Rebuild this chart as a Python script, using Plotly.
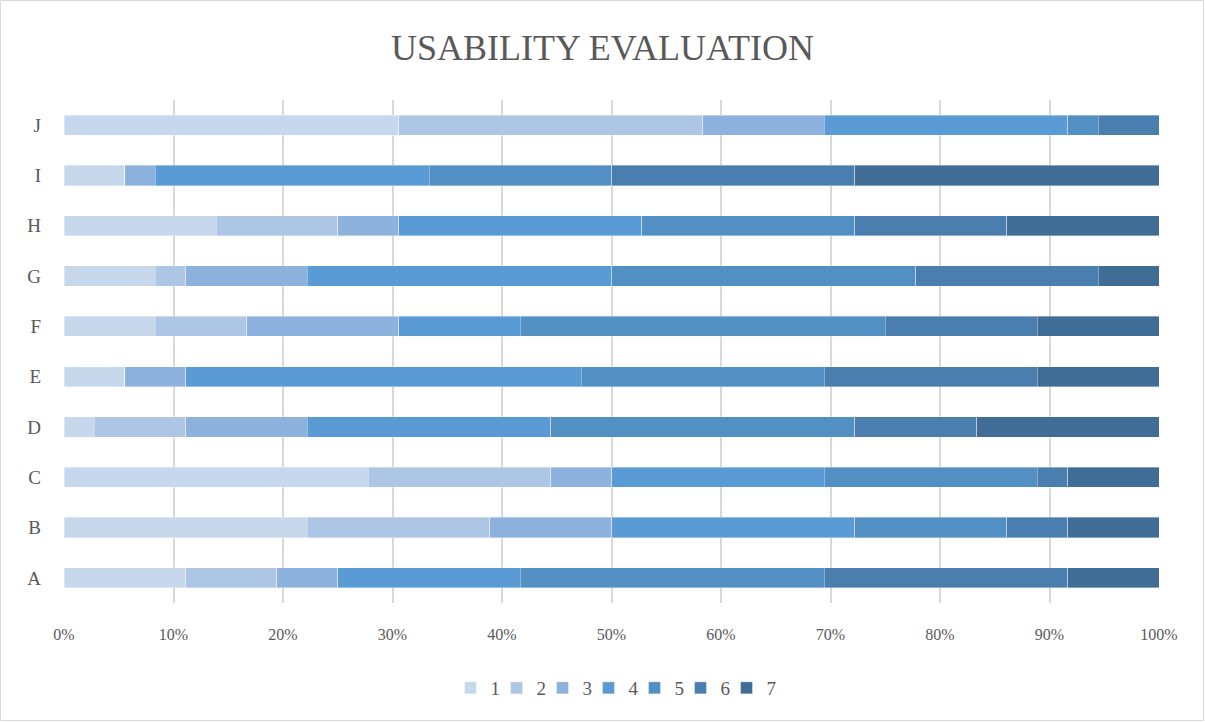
import plotly.graph_objects as go

categories = ["A", "B", "C", "D", "E", "F", "G", "H", "I", "J"]
series_names = ["1", "2", "3", "4", "5", "6", "7"]
# counts per rating (out of 36 responses) for each category A..J
s1 = [4, 8, 10, 1, 2, 3, 3, 5, 2, 11]
s2 = [3, 6, 6, 3, 0, 3, 1, 4, 0, 10]
s3 = [2, 4, 2, 4, 2, 5, 4, 2, 1, 4]
s4 = [6, 8, 7, 8, 13, 4, 10, 8, 9, 8]
s5 = [10, 5, 7, 10, 8, 12, 10, 7, 6, 1]
s6 = [8, 2, 1, 4, 7, 5, 6, 5, 8, 2]
s7 = [3, 3, 3, 6, 4, 4, 2, 5, 10, 0]
series_values = [s1, s2, s3, s4, s5, s6, s7]
colors = ["#c7d7ec", "#aec6e6", "#8db2de", "#5b9bd5", "#528fc3", "#4a7eae", "#3f6d96"]
tick_vals = [0, 10, 20, 30, 40, 50, 60, 70, 80, 90, 100]
tick_text = [f"{v}%" for v in tick_vals]

FONT = "Liberation Serif"

fig = go.Figure()
for name, vals, col in zip(series_names, series_values, colors):
    fig.add_trace(go.Bar(
        y=categories, x=vals, name=name, orientation="h",
        marker=dict(color=col, line=dict(color="rgba(255,255,255,0.6)", width=0.6)),
        hoverinfo="skip",
    ))

W, H = 1205, 722
ml, mr, mt, mb = 64, 46, 100, 119
pw, ph = W - ml - mr, H - mt - mb

fig.update_layout(
    width=W, height=H,
    barmode="stack", barnorm="percent", bargap=0.6,
    margin=dict(l=ml, r=mr, t=mt, b=mb, autoexpand=False),
    paper_bgcolor="white", plot_bgcolor="white",
    font=dict(family=FONT, color="#595959", size=16),
    title=dict(text="USABILITY EVALUATION", x=0.5, xanchor="center",
               y=1 - 47 / H, yanchor="middle",
               font=dict(family=FONT, size=36, color="#595959")),
    xaxis=dict(range=[0, 100], tickvals=tick_vals, ticktext=tick_text,
               showgrid=True, gridcolor="#d9d9d9", gridwidth=2,
               zeroline=False, showline=False, ticks="",
               ticklabelstandoff=20,
               tickfont=dict(family=FONT, size=16, color="#595959"),
               fixedrange=True),
    yaxis=dict(showgrid=False, ticks="", showline=False,
               tickfont=dict(family=FONT, size=19, color="#595959"),
               ticklabelstandoff=22, fixedrange=True),
    legend=dict(orientation="h", x=0.5, xanchor="center",
                y=-(688 - (H - mb)) / ph, yanchor="middle",
                font=dict(family=FONT, size=19, color="#595959"),
                traceorder="normal", itemwidth=30,
                entrywidth=1, entrywidthmode="pixels",
                bgcolor="rgba(0,0,0,0)"),
    showlegend=True,
    shapes=[dict(type="rect", xref="paper", yref="paper",
                 x0=-(ml - 0.5) / pw, x1=1 + (mr - 1.5) / pw,
                 y0=-(mb - 1.5) / ph, y1=1 + (mt - 0.5) / ph,
                 line=dict(color="#d9d9d9", width=1), layer="below")],
)

post = """
document.body.style.margin='0';
document.body.style.overflow='hidden';
function unclipLegend(){
  document.querySelectorAll('.legend .scrollbox').forEach(function(e){
    e.removeAttribute('clip-path'); e.style.clipPath='none';
  });
}
unclipLegend();
var gd = document.getElementById('{plot_id}');
if (gd && gd.on) { gd.on('plotly_afterplot', unclipLegend); }
setTimeout(unclipLegend, 50);
"""
fig.write_html("out.html", config={"displayModeBar": False}, post_script=post)
